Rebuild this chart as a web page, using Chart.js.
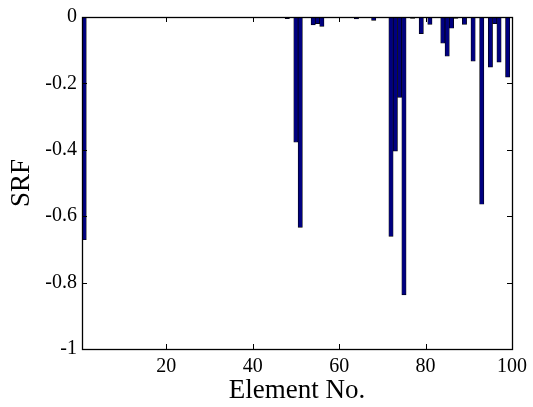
<!DOCTYPE html>
<html>
<head>
<meta charset="utf-8">
<script src="https://cdn.jsdelivr.net/npm/chart.js@4.4.0/dist/chart.umd.min.js"></script>
<style>
  html, body { margin: 0; background: #fff; }
  #wrap { width: 533px; height: 407px; }
</style>
</head>
<body>
<div id="wrap"><canvas id="srf"></canvas></div>
<script>
// Elements with a non-zero stiffness reduction factor
const elementNo = [1, 48, 50, 51, 54, 55, 56, 64, 68, 72, 73, 74, 75, 77, 79, 81, 84, 85, 86, 87, 89, 91, 93, 95, 96, 97, 99];
const srfValues = [-0.671, -0.005, -0.377, -0.634, -0.024, -0.020, -0.028, -0.006, -0.010, -0.661, -0.404, -0.242, -0.837,
  -0.004, -0.050, -0.022, -0.079, -0.118, -0.034, -0.004, -0.022, -0.133, -0.564, -0.151, -0.020, -0.136, -0.181];

const xTicks = [20, 40, 60, 80, 100];
const yTicks = [0, -0.2, -0.4, -0.6, -0.8, -1];

const serif = "'Liberation Serif', 'Times New Roman', serif";

// box around the axes with inward ticks on all four sides
const boxTicks = {
  id: 'boxTicks',
  afterDatasetsDraw(chart) {
    const { ctx, chartArea: a, scales: { x, y } } = chart;
    const len = 5;
    ctx.save();
    ctx.strokeStyle = '#000';
    ctx.lineWidth = 1;
    ctx.beginPath();
    xTicks.forEach(v => {
      const px = Math.round(x.getPixelForValue(v)) + 0.5;
      ctx.moveTo(px, a.bottom); ctx.lineTo(px, a.bottom - len);
      ctx.moveTo(px, a.top); ctx.lineTo(px, a.top + len);
    });
    yTicks.forEach(v => {
      const py = Math.round(y.getPixelForValue(v)) + 0.5;
      ctx.moveTo(a.left, py); ctx.lineTo(a.left + len, py);
      ctx.moveTo(a.right, py); ctx.lineTo(a.right - len, py);
    });
    ctx.stroke();
    ctx.lineWidth = 1.3;
    ctx.strokeRect(Math.round(a.left) + 0.5, Math.round(a.top) + 0.5,
      Math.round(a.right - a.left), Math.round(a.bottom - a.top));
    ctx.restore();
  }
};

new Chart(document.getElementById('srf'), {
  type: 'bar',
  plugins: [boxTicks],
  data: {
    datasets: [{
      data: elementNo.map((n, i) => ({ x: n, y: srfValues[i] })),
      backgroundColor: '#000080',
      borderColor: '#000000',
      borderWidth: 0.7,
      barPercentage: 1,
      categoryPercentage: 1,
    }],
  },
  options: {
    responsive: true,
    maintainAspectRatio: false,
    animation: false,
    layout: { padding: { top: 16, right: 21, left: 0, bottom: 0 } },
    plugins: { legend: { display: false }, tooltip: { enabled: false } },
    scales: {
      x: {
        type: 'linear',
        min: 0.5,
        max: 100,
        offset: false,
        grid: { display: false, drawTicks: false, offset: false },
        border: { display: false },
        afterBuildTicks: (scale) => { scale.ticks = xTicks.map(v => ({ value: v })); },
        afterFit: (scale) => { scale.height = 58; },
        ticks: { color: '#000', font: { family: serif, size: 20 }, padding: 6, maxRotation: 0 },
        title: { display: true, text: 'Element No.', color: '#000', font: { family: serif, size: 27 }, padding: { top: 0, bottom: 0 } },
      },
      y: {
        min: -1,
        max: 0,
        grid: { display: false, drawTicks: false },
        border: { display: false },
        afterBuildTicks: (scale) => { scale.ticks = yTicks.map(v => ({ value: v })); },
        afterFit: (scale) => { scale.width = 82; },
        ticks: {
          color: '#000',
          font: { family: serif, size: 20 },
          padding: 5,
          callback: (v) => String(Math.round(v * 10) / 10),
        },
        title: { display: true, text: 'SRF', color: '#000', font: { family: serif, size: 27 }, padding: { top: 6, bottom: 0 } },
      },
    },
  },
});
</script>
</body>
</html>
